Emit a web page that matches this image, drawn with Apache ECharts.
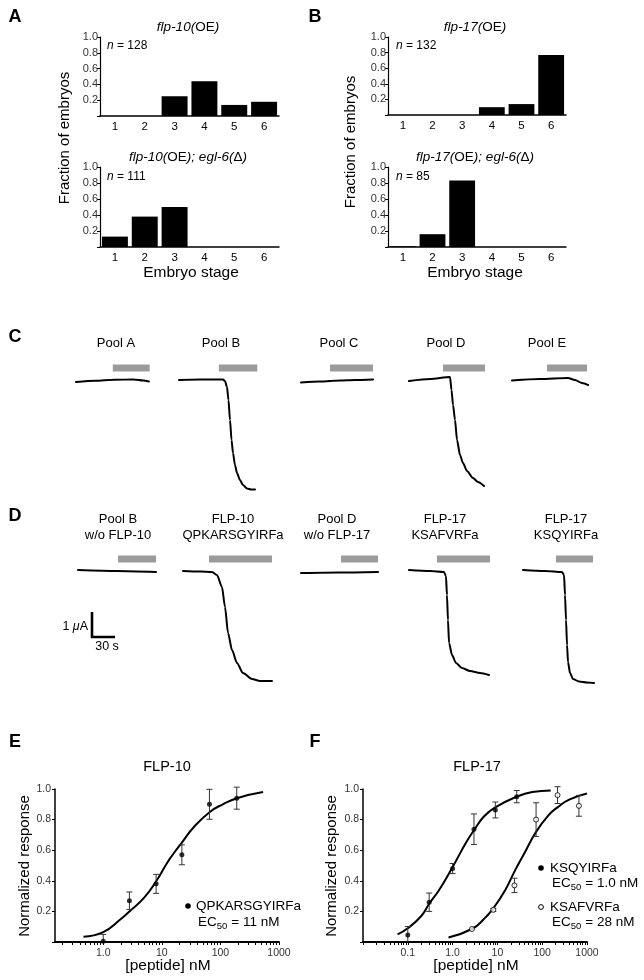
<!DOCTYPE html>
<html><head><meta charset="utf-8">
<script src="https://cdn.jsdelivr.net/npm/echarts@6/dist/echarts.min.js"></script>
<style>html,body{margin:0;padding:0;background:#fff}#c{width:644px;height:980px}</style>
</head><body><div id="c"></div>
<script>
// ---------------- DATA ----------------
const stages = ['1','2','3','4','5','6'];
const flp10OE      = [0, 0, 0.25, 0.44, 0.14, 0.18];
const flp10OEegl6  = [0.13, 0.38, 0.50, 0, 0, 0];
const flp17OE      = [0, 0, 0, 0.10, 0.14, 0.77];
const flp17OEegl6  = [0.01, 0.16, 0.83, 0, 0, 0];

// Two-electrode voltage clamp traces: [time s, current µA] relative to trace start
const cPoolA = [[0,0],[25,0.05],[50,0.09],[75,0.1],[88,0.06],[95,0.02]];
const cPoolB = [[0,0],[27.4,0.02],[57.4,0.02],[59.9,-0.04],[62.6,-0.28],[64.5,-0.8],[66.5,-1.6],[68.5,-2.4],[70.4,-2.92],[73.0,-3.4],[75.6,-3.72],[79.5,-4.0],[83.4,-4.2],[88.7,-4.34],[93.9,-4.38],[99.1,-4.38]];
const cPoolC = [[0,0],[24.8,0.04],[50.8,0.08],[70.4,0.1],[93.9,0.12]];
const cPoolD = [[0,0],[27.4,0.08],[53.5,0.16],[55.4,-0.36],[57.4,-0.96],[60.0,-1.56],[62.6,-2.36],[66.5,-2.96],[70.4,-3.28],[75.6,-3.6],[83.4,-3.88],[90.0,-4.04],[97.8,-4.2]];
const cPoolE = [[0,0],[36.5,0.06],[73,0.1],[82.1,0.02],[91.3,-0.1],[99.1,-0.18]];
const dPoolBwo = [[0,0],[50.8,-0.04],[101.7,-0.08]];
const dFLP10 = [[0,0],[22.2,-0.02],[37.8,-0.04],[44.3,-0.16],[50.8,-0.64],[54.8,-1.44],[58.7,-2.48],[63.9,-3.16],[70.4,-3.68],[78.2,-4.08],[90.0,-4.32],[100.4,-4.4],[116.0,-4.4]];
const dPoolDwo = [[0,0],[50,0.02],[100.4,0.04]];
const dKSAFVRFa = [[0,0],[27.4,-0.04],[45.6,-0.08],[48.2,-0.24],[49.5,-1.0],[50.8,-2.0],[52.2,-2.92],[56.1,-3.4],[61.3,-3.72],[69.1,-3.92],[79.5,-4.04],[92.6,-4.12],[104.3,-4.2]];
const dKSQYIRFa = [[0,0],[28.7,-0.04],[50.8,-0.08],[53.5,-0.2],[54.8,-1.0],[56.1,-2.0],[57.4,-3.0],[58.7,-3.68],[61.3,-4.12],[65.2,-4.36],[73.0,-4.46],[83.4,-4.5],[92.6,-4.52]];
// peptide application windows [on, off] in s
const applC = [[48,96],[52,102],[37.8,93.9],[44.3,99.1],[45.6,97.8]];
const applD = [[52.2,101.7],[33.9,116.0],[52.2,100.4],[36.5,105.6],[43.0,91.3]];
const labelsC = ['Pool A','Pool B','Pool C','Pool D','Pool E'];
const labelsD = [['Pool B','w/o FLP-10'],['FLP-10','QPKARSGYIRFa'],['Pool D','w/o FLP-17'],['FLP-17','KSAFVRFa'],['FLP-17','KSQYIRFa']];
const scaleBarTime = 30, scaleBarCurrent = 1;

// Dose response
const concE = [1.0, 2.8, 8.0, 22, 65, 190];
const respE = [0.005, 0.27, 0.38, 0.57, 0.90, 0.94];
const errE  = [0.045, 0.057, 0.062, 0.065, 0.098, 0.072];
const curveEConc = [0.46, 1.0, 2.0, 2.8, 5.0, 8.1, 12, 16, 23, 35, 66, 110, 191, 535];
const curveEResp = [0.035, 0.065, 0.15, 0.2, 0.29, 0.4, 0.51, 0.58, 0.66, 0.75, 0.85, 0.9, 0.94, 0.98];
const concF1 = [0.1, 0.3, 1.0, 3.0, 9.0, 27];
const respF1 = [0.046, 0.26, 0.48, 0.737, 0.863, 0.95];
const errF1  = [0.055, 0.06, 0.033, 0.1, 0.052, 0.04];
const concF2 = [2.7, 8.1, 24, 73, 220, 660];
const respF2 = [0.085, 0.21, 0.37, 0.80, 0.96, 0.89];
const errF2  = [0, 0.01, 0.047, 0.11, 0.055, 0.068];
const curveF1Conc = [0.059, 0.1, 0.2, 0.3, 0.5, 1.0, 2.0, 3.0, 5, 9, 27, 60, 155];
const curveF1Resp = [0.05, 0.09, 0.17, 0.25, 0.34, 0.49, 0.65, 0.73, 0.82, 0.88, 0.95, 0.98, 0.99];
const curveF2Conc = [0.81, 2.7, 5, 8.1, 15, 24, 40, 73, 140, 220, 400, 1000];
const curveF2Resp = [0.03, 0.085, 0.15, 0.22, 0.34, 0.46, 0.58, 0.72, 0.83, 0.88, 0.93, 0.97];

// ---------------- LAYOUT ----------------
const FF = "'Liberation Sans', Arial, Helvetica, sans-serif";
const PXS = 0.767, PXA = 25, YMIN = -5, YMAX = 1;
const layC = [{x0:76,y0:382},{x0:179,y0:380},{x0:301,y0:382.5},{x0:409,y0:381},{x0:512,y0:380.5}];
const layD = [{x0:78,y0:570},{x0:183,y0:571},{x0:301,y0:573},{x0:409,y0:570},{x0:523,y0:570}];
const BAR_Y_C = 368, BAR_Y_D = 559;

const grids = [], xAxes = [], yAxes = [], series = [];
function addGrid(g, xa, ya){ grids.push(g); xa.gridIndex = grids.length-1; ya.gridIndex = grids.length-1; xAxes.push(xa); yAxes.push(ya); return grids.length-1; }

// Bar panels
const barPanels = [
  {data: flp10OE, g:{left:100, top:37, width:179, height:79}},
  {data: flp10OEegl6, g:{left:100, top:167, width:179, height:80}},
  {data: flp17OE, g:{left:388, top:37, width:178, height:78}},
  {data: flp17OEegl6, g:{left:388, top:167, width:178, height:80}}
];
barPanels.forEach(p => {
  const gi = addGrid(p.g,
    {type:'category', data:stages, boundaryGap:true,
     axisLine:{onZero:false, lineStyle:{color:'#000', width:1.5}}, axisTick:{show:false},
     axisLabel:{color:'#000', fontSize:11.5, fontFamily:FF, margin:5}},
    {type:'value', min:0, max:1, interval:0.2, splitLine:{show:false},
     axisLine:{show:true, onZero:false, lineStyle:{color:'#000', width:1.2}}, axisTick:{show:true, length:3, lineStyle:{color:'#000'}},
     axisLabel:{color:'#333', fontSize:11, fontFamily:FF, margin:2, formatter:v => v===0?'':v.toFixed(1)}});
  series.push({type:'bar', xAxisIndex:gi, yAxisIndex:gi, data:p.data, barCategoryGap:'13%', itemStyle:{color:'#000'}});
});

// Trace panels
function addTrace(trace, appl, lay, barY, extra){
  const end = Math.max(trace[trace.length-1][0], appl[1]) + 1;
  const gi = addGrid({left:lay.x0, top:lay.y0 - YMAX*PXA, width:end*PXS, height:(YMAX-YMIN)*PXA},
    {type:'value', min:0, max:end, show:false}, {type:'value', min:YMIN, max:YMAX, show:false});
  const lvl = (lay.y0 - barY)/PXA;
  series.push({type:'line', xAxisIndex:gi, yAxisIndex:gi, data:[[appl[0],lvl],[appl[1],lvl]], symbol:'none', clip:false,
    lineStyle:{color:'#9b9b9b', width:7, cap:'butt'}, silent:true});
  series.push({type:'line', xAxisIndex:gi, yAxisIndex:gi, data:trace, symbol:'none', clip:false,
    smooth:0.25, smoothMonotone:'x',
    lineStyle:{color:'#000', width:2, join:'round', cap:'round'}});
  if (extra) extra(gi);
}
const tracesC = [cPoolA, cPoolB, cPoolC, cPoolD, cPoolE];
const tracesD = [dPoolBwo, dFLP10, dPoolDwo, dKSAFVRFa, dKSQYIRFa];
tracesC.forEach((t,i) => addTrace(t, applC[i], layC[i], BAR_Y_C));
tracesD.forEach((t,i) => addTrace(t, applD[i], layD[i], BAR_Y_D, i===0 ? (gi => {
  const t0 = (92 - layD[0].x0)/PXS, i0 = -(612 - layD[0].y0)/PXA;
  series.push({type:'line', xAxisIndex:gi, yAxisIndex:gi, symbol:'none', clip:false,
    data:[[t0,i0],[t0,i0-scaleBarCurrent],[t0+scaleBarTime,i0-scaleBarCurrent]],
    lineStyle:{color:'#000', width:2.6, join:'miter', cap:'butt'}});
}) : null));

// Dose-response panels
function logTicks(lo, hi){ const out=[]; for(let d=-3; d<=3; d++){ for(let k=1;k<=9;k++){ const v=Math.log10(k*Math.pow(10,d)); if(v>=lo-1e-9 && v<=hi+1e-9) out.push(v);} } return out; }
const decLabel = {'-1':'0.1','0':'1.0','1':'10','2':'100','3':'1000'};
function addDR(g, xmin, majors){
  return addGrid(g,
    {type:'value', min:xmin, max:3, splitLine:{show:false},
     axisLine:{onZero:false, lineStyle:{color:'#000', width:1.8}},
     axisTick:{customValues:logTicks(xmin,3), length:3, lineStyle:{color:'#000', width:1}},
     axisLabel:{customValues:majors, color:'#333', fontSize:10.5, fontFamily:FF, margin:6, formatter:v => decLabel[String(Math.round(v))]}},
    {type:'value', min:0, max:1, interval:0.2, splitLine:{show:false},
     axisLine:{show:true, onZero:false, lineStyle:{color:'#000', width:1.5}}, axisTick:{show:true, length:3, lineStyle:{color:'#000'}},
     axisLabel:{color:'#333', fontSize:10.5, fontFamily:FF, margin:4, formatter:v => v===0?'':v.toFixed(1)}});
}
function errRender(params, api){
  const x = api.value(0), y = api.value(1), e = api.value(2);
  if (!(e > 0)) return null;
  const lo = Math.max(0, y - e), hi = y + e;
  const p1 = api.coord([x, lo]), p2 = api.coord([x, hi]);
  const w = 3, st = {stroke:'#333', lineWidth:1};
  const ch = [{type:'line', shape:{x1:p1[0],y1:p1[1],x2:p2[0],y2:p2[1]}, style:st},
              {type:'line', shape:{x1:p2[0]-w,y1:p2[1],x2:p2[0]+w,y2:p2[1]}, style:st}];
  if (y - e > 0) ch.push({type:'line', shape:{x1:p1[0]-w,y1:p1[1],x2:p1[0]+w,y2:p1[1]}, style:st});
  return {type:'group', children:ch};
}
function addDose(gi, conc, resp, err, cConc, cResp, open){
  series.push({type:'line', xAxisIndex:gi, yAxisIndex:gi, smooth:true, symbol:'none', z:2,
    data:cConc.map((c,i)=>[Math.log10(c), cResp[i]]), lineStyle:{color:'#000', width:2}});
  series.push({type:'custom', xAxisIndex:gi, yAxisIndex:gi, z:3, renderItem:errRender, encode:{x:0,y:1},
    data:conc.map((c,i)=>[Math.log10(c), resp[i], err[i]])});
  series.push({type:'scatter', xAxisIndex:gi, yAxisIndex:gi, z:4, symbolSize:5, clip:false,
    data:conc.map((c,i)=>[Math.log10(c), resp[i]]),
    itemStyle: open ? {color:'#fff', borderColor:'#000', borderWidth:1} : {color:'#000'}});
}
const gE = addDR({left:55, top:789, width:224, height:153}, -0.823, [0,1,2,3]);
addDose(gE, concE, respE, errE, curveEConc, curveEResp, false);
const gF = addDR({left:363, top:789, width:224, height:153}, -2, [-1,0,1,2,3]);
addDose(gF, concF1, respF1, errF1, curveF1Conc, curveF1Resp, false);
addDose(gF, concF2, respF2, errF2, curveF2Conc, curveF2Resp, true);

// ---------------- TEXT ----------------
const gr = [];
function T(x, y, text, size, o){
  o = o || {};
  const st = {text, fill:'#000', font:`${o.italic?'italic ':''}${o.bold?'bold ':''}${size}px ${FF}`,
    align:o.align||'center', verticalAlign:'middle', textAlign:o.align||'center', textVerticalAlign:'middle'};
  if (o.rich) st.rich = o.rich;
  gr.push({type:'text', x, y, rotation:o.rot||0, style:st, z:100});
}
const it = s => ({i:{fontStyle:'italic', fontSize:s, fontFamily:FF, fill:'#000'}});
[['A',15,17],['B',315,17],['C',15,337],['D',15,516],['E',15,742],['F',315,742]].forEach(a=>T(a[1],a[2],a[0],18,{bold:true}));
T(188,27,'{i|flp-10(}OE{i|)}',13.5,{rich:it(13.5)});
T(188,157,'{i|flp-10(}OE{i|); egl-6(}Δ{i|)}',13.5,{rich:it(13.5)});
T(475,27,'{i|flp-17(}OE{i|)}',13.5,{rich:it(13.5)});
T(475,157,'{i|flp-17(}OE{i|); egl-6(}Δ{i|)}',13.5,{rich:it(13.5)});
T(107,46,'{i|n} = 128',12,{align:'left',rich:it(12)});
T(107,177,'{i|n} = 111',12,{align:'left',rich:it(12)});
T(396,46,'{i|n} = 132',12,{align:'left',rich:it(12)});
T(396,177,'{i|n} = 85',12,{align:'left',rich:it(12)});
T(65,138,'Fraction of embryos',15,{rot:Math.PI/2});
T(351,142,'Fraction of embryos',15,{rot:Math.PI/2});
T(191,273,'Embryo stage',15.5);
T(475,273,'Embryo stage',15.5);
const cxC = [116,221,339,446,547];
labelsC.forEach((l,i)=>T(cxC[i],343,l,13));
const cxD = [118,233,337,445,566];
labelsD.forEach((l,i)=>{T(cxD[i],519,l[0],13); T(cxD[i],535,l[1],13);});
T(88,627,'1 {i|μ}A',12.5,{align:'right',rich:it(12.5)});
T(107,647,'30 s',12.5);
T(167,767,'FLP-10',14.5);
T(477,767,'FLP-17',14.5);
T(25,866,'Normalized response',15,{rot:Math.PI/2});
T(332,866,'Normalized response',15,{rot:Math.PI/2});
T(168,966,'[peptide] nM',15.5);
T(476,966,'[peptide] nM',15.5);
// legends
function EC(x, y, num){
  T(x, y, 'EC', 13.5, {align:'left'});
  T(x+18.8, y+4, '50', 9.5, {align:'left'});
  T(x+29.5, y, ' = ' + num + ' nM', 13.5, {align:'left'});
}
gr.push({type:'circle', shape:{cx:188, cy:906, r:2.8}, style:{fill:'#000'}});
T(196,906,'QPKARSGYIRFa',13.5,{align:'left'});
EC(198,922,'11');
gr.push({type:'circle', shape:{cx:541, cy:868, r:2.8}, style:{fill:'#000'}});
T(550,868,'KSQYIRFa',13.5,{align:'left'});
EC(552,883,'1.0');
gr.push({type:'circle', shape:{cx:541, cy:907, r:2.4}, style:{fill:'#fff', stroke:'#000', lineWidth:1}});
T(550,907,'KSAFVRFa',13.5,{align:'left'});
EC(552,922,'28');

const chart = echarts.init(document.getElementById('c'), null, {renderer:'canvas'});
chart.setOption({animation:false, backgroundColor:'#fff', textStyle:{fontFamily:FF},
  grid:grids, xAxis:xAxes, yAxis:yAxes, series, graphic:{elements:gr}});
</script></body></html>
